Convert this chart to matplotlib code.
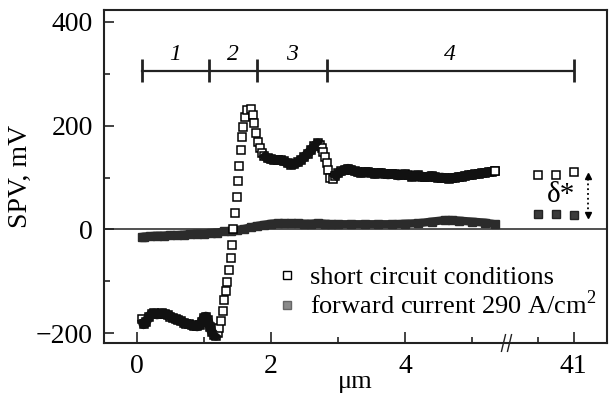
import numpy as np
import matplotlib.pyplot as plt
from matplotlib.lines import Line2D

plt.rcParams.update({'font.family': 'serif'})
plt.rcParams.update({'font.serif': ['Liberation Serif', 'DejaVu Serif']})
plt.rcParams.update({'mathtext.fontset': 'custom'})
plt.rcParams.update({'mathtext.rm': 'Liberation Serif'})
plt.rcParams.update({'font.size': 20})

#%% data (x in um, SPV in mV)
sc_x = [0.07, 0.10, 0.14, 0.18, 0.22, 0.26, 0.30, 0.34, 0.38, 0.42, 0.46, 0.50,
        0.54, 0.58, 0.62, 0.66, 0.70, 0.74, 0.78, 0.82, 0.86, 0.90, 0.94, 0.97,
        1.00, 1.03, 1.06, 1.09, 1.12, 1.15, 1.18, 1.21,
        1.23, 1.26, 1.28, 1.30, 1.33, 1.34, 1.37, 1.40, 1.42, 1.44, 1.46, 1.49,
        1.51, 1.52, 1.55, 1.57, 1.58, 1.61, 1.64, 1.70, 1.73, 1.75, 1.78, 1.81,
        1.84, 1.87,
        1.90, 1.95, 2.00, 2.05, 2.10, 2.15, 2.20, 2.25, 2.30, 2.35, 2.40, 2.45,
        2.50, 2.55, 2.60, 2.65, 2.70, 2.73,
        2.76, 2.78, 2.81, 2.84, 2.85, 2.88, 2.93,
        2.96, 3.00, 3.05, 3.10, 3.15, 3.20, 3.25, 3.30, 3.35, 3.40, 3.45, 3.50,
        3.55, 3.60, 3.65, 3.70, 3.75, 3.80, 3.85, 3.90, 3.95, 4.00, 4.05, 4.10,
        4.15, 4.20, 4.25, 4.30, 4.35, 4.40, 4.45, 4.50, 4.55, 4.60, 4.65, 4.70,
        4.75, 4.80, 4.85, 4.90, 4.95, 5.00, 5.05, 5.10, 5.15, 5.20, 5.25, 5.30,
        5.34]
sc_y = [-172, -183, -178, -168, -163, -162, -164, -163, -162, -163, -165, -168,
        -171, -173, -175, -177, -180, -182, -183, -185, -186, -187, -185, -178,
        -170, -168, -175, -188, -198, -203, -205, -200,
        -191, -176, -157, -137, -118, -102, -79, -56, -31, 0, 31, 62,
        93, 122, 153, 178, 197, 217, 230, 232, 220, 205, 186, 168,
        157, 147,
        142, 137, 135, 134, 134, 133, 131, 128, 125, 126, 129, 134,
        140, 146, 153, 161, 166, 162,
        157, 149, 139, 128, 114, 100, 97,
        103, 108, 112, 115, 117, 115, 112, 110, 109, 110, 111, 109,
        107, 108, 109, 107, 106, 107, 106, 104, 105, 106, 104, 102,
        103, 104, 102, 101, 102, 103, 101, 99, 100, 99, 98, 99,
        100, 101, 102, 103, 104, 105, 106, 107, 108, 109, 110, 111,
        112]

fw_x = [0.07, 0.1, 0.2, 0.3, 0.4, 0.5, 0.6, 0.7, 0.8, 0.9, 1.0, 1.1, 1.2, 1.3,
        1.4, 1.5, 1.6, 1.7, 1.8, 1.9, 2.0, 2.1, 2.2, 2.3, 2.4, 2.5, 2.6, 2.7,
        2.8, 2.9, 3.0, 3.2, 3.4, 3.6, 3.8, 4.0, 4.2, 4.4, 4.6, 4.7, 4.8, 5.0,
        5.2, 5.34]
fw_y = [-15, -14, -13, -12, -12, -11, -11, -10, -9, -8, -8, -7, -6, -4,
        -3, -1, 1, 4, 7, 9, 11, 12, 12, 12, 12, 11, 11, 12,
        11, 10, 10, 10, 10, 10, 10, 11, 12, 15, 18, 18, 17, 15,
        13, 10]

# points past the axis break
far_x = [40.0, 40.5, 41.0]
far_sc = [104, 104, 110]
far_fw = [30, 30, 28]

# regions 1-4 marked on the top bar
region_edges = [0.08, 1.07, 1.80, 2.84, 41.0]
region_names = ['1', '2', '3', '4']

#%% broken x axis: 0..5.6 linear, then jump to ~40..42
B1, B2 = 5.6, 39.5
U41, K = 6.515, 0.537
UB2 = U41 + (B2 - 41) * K

def fwd(x):
    x = np.asarray(x, dtype=float)
    u_gap = B1 + (x - B1) * (UB2 - B1) / (B2 - B1)
    return np.where(x <= B1, x, np.where(x >= B2, U41 + (x - 41) * K, u_gap))

def inv(u):
    u = np.asarray(u, dtype=float)
    x_gap = B1 + (u - B1) * (B2 - B1) / (UB2 - B1)
    return np.where(u <= B1, u, np.where(u >= UB2, 41 + (u - U41) / K, x_gap))

#%% plot
fig = plt.figure(figsize=(6.1, 3.98), dpi=100)
ax = fig.add_axes([104/610, 55/398, 503/610, 333/398])
ax.set_xscale('function', functions=(fwd, inv))

ax.axhline(0, color='#333333', lw=1.2, zorder=1)

# forward current: dense dark band
ax.plot(fw_x, fw_y, color='#2b2b2b', lw=6, marker='s', ms=5.5, zorder=2,
        solid_capstyle='butt')
ax.plot(far_x, far_fw, 's', color='#3a3a3a', mec='#222222', ms=5.5, zorder=2)

# short circuit: open squares, black band where points overlap
sc_x = np.array(sc_x)
sc_y = np.array(sc_y, dtype=float)
dense = np.zeros(len(sc_x), bool)
for lo, hi in [(0.0, 1.22), (1.86, 2.74), (2.9, 5.4)]:
    dense |= (sc_x >= lo) & (sc_x <= hi)
ax.plot(sc_x, sc_y, 's', mfc='white', mec='black', ms=5.8, mew=1.1, zorder=3)
ax.plot(sc_x, np.where(dense, sc_y, np.nan), color='#111111', lw=7,
        zorder=4, solid_capstyle='butt')
ax.plot(sc_x[-1:], sc_y[-1:], 's', mfc='white', mec='black', ms=5.8, mew=1.1,
        zorder=5)
ax.plot(far_x, far_sc, 's', mfc='white', mec='black', ms=5.8, mew=1.1,
        zorder=3)

# region bar
bar_y = 306
ax.plot([region_edges[0], region_edges[-1]], [bar_y, bar_y], color='#222222',
        lw=1.6)
ax.vlines(region_edges, bar_y - 22, bar_y + 22, color='#222222', lw=2)
for i, name in enumerate(region_names):
    uc = (fwd(region_edges[i]) + fwd(region_edges[i + 1])) / 2
    ax.text(float(inv(uc)), bar_y + 31, name, ha='center', va='center',
            style='italic', fontsize=17)

# delta* annotation
ax.text(40.65, 66, 'δ*', ha='center', va='center', fontsize=21)
ax.plot([41.4, 41.4], [30, 100], ':', color='black', lw=1.3)
ax.plot([41.4], [103], '^', color='black', ms=4)
ax.plot([41.4], [27], 'v', color='black', ms=4)

# break marks on the bottom spine
for xb in [5.47, 5.56]:
    ax.plot([xb - 0.03, xb + 0.03], [-0.025, 0.025], color='#222222', lw=1,
            transform=ax.get_xaxis_transform(), clip_on=False, zorder=6)

ax.set_xlim(-0.49, 41.93)
ax.set_ylim(-219, 423)
ax.set_xticks([0, 2, 4, 41])
ax.set_xticklabels(['0', '2', '4', '41'])
ax.set_xticks([1, 3, 5, 40], minor=True)
ax.set_yticks([-200, 0, 200, 400])
ax.set_yticklabels(['\u2212200', '0', '200', '400'])
ax.set_yticks([-100, 100, 300], minor=True)
ax.tick_params(axis='both', which='both', direction='in', top=False,
               right=False, width=1.2, color='#222222')
ax.tick_params(axis='x', which='major', length=8, pad=8)
ax.tick_params(axis='y', which='major', length=7, pad=8)
ax.tick_params(axis='both', which='minor', length=4.5)
for s in ax.spines.values():
    s.set_linewidth(1.5)
    s.set_color('#222222')

ax.set_ylabel('SPV, mV', labelpad=2)
ax.set_xlabel('μm', labelpad=-6, fontsize=19)

handles = [Line2D([], [], ls='none', marker='s', mfc='white', mec='black',
                  ms=6, mew=1),
           Line2D([], [], ls='none', marker='s', mfc='#8a8a8a', mec='#666666',
                  ms=6, mew=1)]
ax.legend(handles, ['short circuit conditions',
                    'forward current 290 A/cm$^2$'],
          loc='upper left', bbox_to_anchor=(0.343, 0.232), frameon=False,
          handlelength=0.8, handletextpad=0.45, labelspacing=0.05,
          borderpad=0, borderaxespad=0, fontsize=19)

plt.savefig('out.png', dpi=100)
